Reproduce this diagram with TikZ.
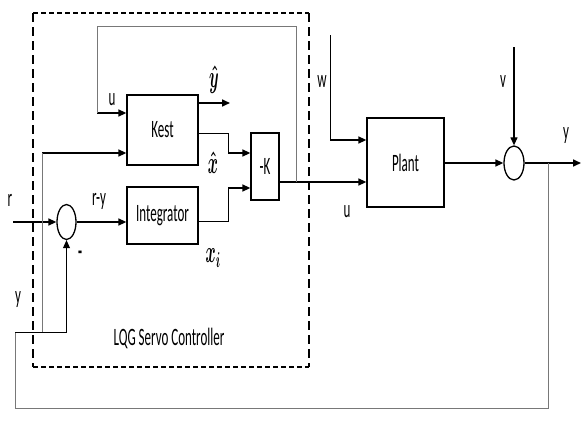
\documentclass[tikz,border=0pt]{standalone}
\usepackage{fontspec}
\setmainfont{Carlito}[FakeStretch=0.52]
\usepackage{graphicx}
\usetikzlibrary{arrows.meta,positioning,calc,shapes.geometric}
\definecolor{fbgrey}{RGB}{120,120,120}
\newcommand{\lbl}{\fontsize{25}{27}\selectfont}
\newcommand{\mlbl}[1]{\scalebox{0.62}[1.25]{$\boldsymbol{#1}$}}
\usepackage{amsmath}

\begin{document}
\begin{tikzpicture}[x=1pt,y=-1pt,
  every node/.style={font=\lbl,inner sep=1pt},
  blk/.style={draw,line width=1.3pt,inner sep=0pt},
  sumj/.style={draw,ellipse,line width=1.3pt,minimum width=19pt,minimum height=35pt,inner sep=0pt},
  sig/.style={line width=1.6pt,-{Triangle[length=8pt,width=7pt]}},
  thn/.style={line width=0.8pt},
  fb/.style={line width=0.9pt,draw=fbgrey},
  hdash/.style={line width=1.5pt,dash pattern=on 5pt off 3pt},
  vdash/.style={line width=1.5pt,dash pattern=on 9pt off 5pt}]
\useasboundingbox (0,0) rectangle (582,421);
% controller boundary
\draw[hdash] (33,13) -- (309,13);
\draw[hdash] (33,367) -- (309,367);
\draw[vdash] (33,13) -- (33,367);
\draw[vdash] (309,13) -- (309,367);
% blocks
\node[blk,minimum width=71pt,minimum height=70pt] (kest) at (162.5,130) {Kest};
\node[blk,minimum width=71pt,minimum height=57pt] (integ) at (162.5,215.5) {Integrator};
\node[blk,minimum width=28pt,minimum height=67pt] (gain) at (265,166.5) {-K};
\node[blk,minimum width=77pt,minimum height=89pt] (plant) at (405.5,162.5) {Plant};
\node[sumj] (sum1) at (66.5,222) {};
\node[sumj,minimum width=20pt,minimum height=34pt] (sum2) at (514,163) {};
% named points
\coordinate (rin) at (13,222);
\coordinate (ktop) at (97,113);
\coordinate (ktl) at (97,26);
\coordinate (yb) at (42,153);
\coordinate (yh) at (230,103);
\coordinate (kx) at (228,133);
\coordinate (kx2) at (228,153);
\coordinate (ix) at (228,221);
\coordinate (ix2) at (228,188);
\coordinate (ku) at (296,182);
\coordinate (win) at (330,35);
\coordinate (w2) at (330,140);
\coordinate (vin) at (514,47);
\coordinate (yout) at (581,163);
\coordinate (fbr) at (548,163);
\coordinate (fbd) at (548,408);
\coordinate (fbl) at (15,408);
\coordinate (fbm) at (15,332);
\coordinate (fbj) at (42,332);
% controller signals
\draw[sig] (rin) -- (sum1.west);
\draw[sig] (sum1.east) -- (sum1.east -| integ.west);
\draw[sig] (ktop) -- (ktop -| kest.west);
\draw[sig] (yb) -- (yb -| kest.west);
\draw[sig] (yh -| kest.east) -- (yh);
\draw[thn] (kx -| kest.east) -- (kx) -- (kx2);
\draw[sig] (kx2) -- (kx2 -| gain.west);
\draw[thn] (ix -| integ.east) -- (ix) -- (ix2);
\draw[sig] (ix2) -- (ix2 -| gain.west);
\draw[sig] (ku -| gain.east) -- (ku -| plant.west);
\draw[fb] (ku) -- (ku |- ktl) -- (ktl) -- (ktop);
% plant side
\draw[thn] (win) -- (w2);
\draw[sig] (w2) -- (w2 -| plant.west);
\draw[sig] (plant.east |- sum2.west) -- (sum2.west);
\draw[sig,line width=1.2pt] (vin) -- (sum2.north);
\draw[sig] (sum2.east) -- (yout);
% feedback of y
\draw[fb] (fbr) -- (fbd) -- (fbl) -- (fbm);
\draw[thn,-{Triangle[length=8pt,width=7pt]}] (fbm) -| (sum1.south);
\draw[fb] (fbj) -- (yb);
% labels
\node (lu) at (112,100) {u};
\node (lyh) at (214,80) {\mlbl{\hat{y}}};
\node (lxh) at (213,163) {\mlbl{\hat{x}}};
\node (lxi) at (213,258) {\mlbl{x_i}};
\node (lr) at (10,200) {r};
\node (lry) at (99,201) {r-y};
\node (lm) at (80,255) {\textbf{-}};
\node (ly) at (18,300) {y};
\node (lctrl) at (169,338) {LQG Servo Controller};
\node (lw) at (322,82) {w};
\node (lv) at (503,82) {v};
\node (lyo) at (566,136) {y};
\node (lup) at (347,212) {u};
\end{tikzpicture}
\end{document}
